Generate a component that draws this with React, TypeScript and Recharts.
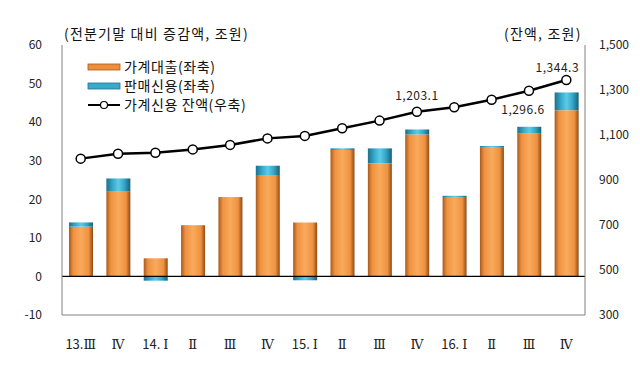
import {
  ComposedChart,
  Bar,
  Line,
  XAxis,
  YAxis,
  LabelList,
  ReferenceLine,
} from "recharts";

const categories = ["13.Ⅲ", "Ⅳ", "14. Ⅰ", "Ⅱ", "Ⅲ", "Ⅳ", "15. Ⅰ", "Ⅱ", "Ⅲ", "Ⅳ", "16. Ⅰ", "Ⅱ", "Ⅲ", "Ⅳ"];
const householdLoan = [12.9, 22.0, 4.7, 13.2, 20.5, 26.3, 14.0, 32.8, 29.3, 36.8, 20.6, 33.4, 37.1, 43.1];
const salesCredit = [1.1, 3.4, -1.1, 0.1, 0.1, 2.4, -1.0, 0.4, 3.9, 1.3, 0.3, 0.4, 1.7, 4.6];
const creditBalance = [995, 1017, 1021, 1036, 1056, 1085, 1096, 1130, 1164, 1203.1, 1223, 1257, 1296.6, 1344.3];
const leftTicks = [-10, 0, 10, 20, 30, 40, 50, 60];
const rightTicks = [300, 500, 700, 900, 1100, 1300, 1500];
const labeledPoints = [9, 12, 13];

const data = categories.map((q, i) => ({
  q,
  loan: householdLoan[i],
  sales: salesCredit[i],
  balance: creditBalance[i],
}));

const FONT = "'Noto Sans CJK KR', sans-serif";
const SERIF = "'DejaVu Serif', 'Liberation Serif', serif";

if (typeof document !== "undefined") document.body.style.margin = "0";

function fmt(v: number) {
  return v.toLocaleString("en-US", { minimumFractionDigits: 1, maximumFractionDigits: 1 });
}

// year prefix in sans, roman numeral in serif like the original
function QuarterTick(props: any) {
  const { x, y, payload } = props;
  const s: string = payload.value;
  const m = s.match(/^([\d.]*\s?)(.*)$/);
  const head = m ? m[1] : "";
  const roman = m ? m[2] : s;
  return (
    <text x={x} y={y + 26} textAnchor="middle" fontSize={13} fill="#222">
      <tspan fontFamily={FONT}>{head}</tspan>
      <tspan fontFamily={SERIF} fontSize={13}>{roman}</tspan>
    </text>
  );
}

function PointLabel(props: any) {
  const { x, y, index, value } = props;
  if (!labeledPoints.includes(index)) return null;
  let dx = 0;
  let dy = -12;
  if (index === 12) {
    dx = -6;
    dy = 23;
  }
  if (index === 13) {
    dx = -9;
    dy = -8;
  }
  return (
    <text x={x + dx} y={y + dy} textAnchor="middle" fontSize={12} fill="#222" fontFamily={FONT} letterSpacing={0.5}>
      {fmt(value)}
    </text>
  );
}

function LegendBox() {
  const rows = [
    { name: "가계대출(좌축)", kind: "orange" },
    { name: "판매신용(좌축)", kind: "blue" },
    { name: "가계신용 잔액(우축)", kind: "line" },
  ];
  return (
    <svg width={220} height={70} style={{ position: "absolute", left: 86, top: 52 }}>
      {rows.map((r, i) => {
        const y = 15 + i * 19;
        return (
          <g key={r.name}>
            {r.kind === "line" ? (
              <>
                <line x1={2} x2={34} y1={y} y2={y} stroke="#000" strokeWidth={2} />
                <circle cx={18} cy={y} r={3.5} fill="#fff" stroke="#000" strokeWidth={1.2} />
              </>
            ) : (
              <rect
                x={2}
                y={y - 3}
                width={32}
                height={6}
                fill={r.kind === "orange" ? "#ec9040" : "#3aa9c9"}
                stroke={r.kind === "orange" ? "#a85a20" : "#1f7590"}
                strokeWidth={0.8}
              />
            )}
            <text x={38} y={y + 5} fontSize={14} fill="#111" fontFamily={FONT} letterSpacing={0.6}>
              {r.name}
            </text>
          </g>
        );
      })}
    </svg>
  );
}

export default function App() {
  return (
    <div style={{ position: "relative", width: 640, height: 367, background: "#fff", fontFamily: FONT }}>
      <div style={{ position: "absolute", left: 64, top: 23, fontSize: 14, letterSpacing: 1.2, color: "#111" }}>
        (전분기말 대비 증감액, 조원)
      </div>
      <div style={{ position: "absolute", left: 504, top: 23, fontSize: 14, letterSpacing: 1.2, color: "#111" }}>
        (잔액, 조원)
      </div>
      <ComposedChart
        width={640}
        height={367}
        data={data}
        stackOffset="sign"
        margin={{ top: 45, right: 0, left: 0, bottom: 0 }}
      >
        <defs>
          <linearGradient id="gOrange" x1="0" y1="0" x2="1" y2="0">
            <stop offset="0%" stopColor="#a9591c" />
            <stop offset="18%" stopColor="#ee9240" />
            <stop offset="50%" stopColor="#f9aa5c" />
            <stop offset="82%" stopColor="#ee9240" />
            <stop offset="100%" stopColor="#8f4a16" />
          </linearGradient>
          <linearGradient id="gBlue" x1="0" y1="0" x2="1" y2="0">
            <stop offset="0%" stopColor="#1d6f88" />
            <stop offset="25%" stopColor="#34a6c8" />
            <stop offset="50%" stopColor="#5ccbe6" />
            <stop offset="75%" stopColor="#34a6c8" />
            <stop offset="100%" stopColor="#185f76" />
          </linearGradient>
        </defs>
        <XAxis
          dataKey="q"
          height={52}
          axisLine={{ stroke: "#808080" }}
          tickLine={false}
          interval={0}
          tick={<QuarterTick />}
        />
        <XAxis xAxisId="top" dataKey="q" orientation="top" height={0} tick={false} tickLine={false} axisLine={{ stroke: "#808080" }} />
        <YAxis
          yAxisId="left"
          width={62}
          domain={[-10, 60]}
          ticks={leftTicks}
          interval={0}
          axisLine={{ stroke: "#808080" }}
          tickLine={false}
          tickMargin={14}
          tick={{ fontSize: 12, fill: "#222", fontFamily: FONT }}
        />
        <YAxis
          yAxisId="right"
          orientation="right"
          width={55}
          domain={[300, 1500]}
          ticks={rightTicks}
          interval={0}
          axisLine={{ stroke: "#808080" }}
          tickLine={false}
          tickMargin={8}
          tickFormatter={(v: number) => v.toLocaleString("en-US")}
          tick={{ fontSize: 12, fill: "#222", fontFamily: FONT }}
        />
        <Bar yAxisId="left" dataKey="loan" stackId="a" barSize={24} fill="url(#gOrange)" isAnimationActive={false} />
        <Bar yAxisId="left" dataKey="sales" stackId="a" barSize={24} fill="url(#gBlue)" isAnimationActive={false} />
        <ReferenceLine yAxisId="left" y={0} stroke="#000" strokeWidth={1.2} />
        <Line
          yAxisId="right"
          dataKey="balance"
          stroke="#000"
          strokeWidth={2.5}
          dot={{ r: 4.5, fill: "#fff", stroke: "#000", strokeWidth: 1.5 }}
          isAnimationActive={false}
        >
          <LabelList dataKey="balance" content={<PointLabel />} />
        </Line>
      </ComposedChart>
      <LegendBox />
    </div>
  );
}
